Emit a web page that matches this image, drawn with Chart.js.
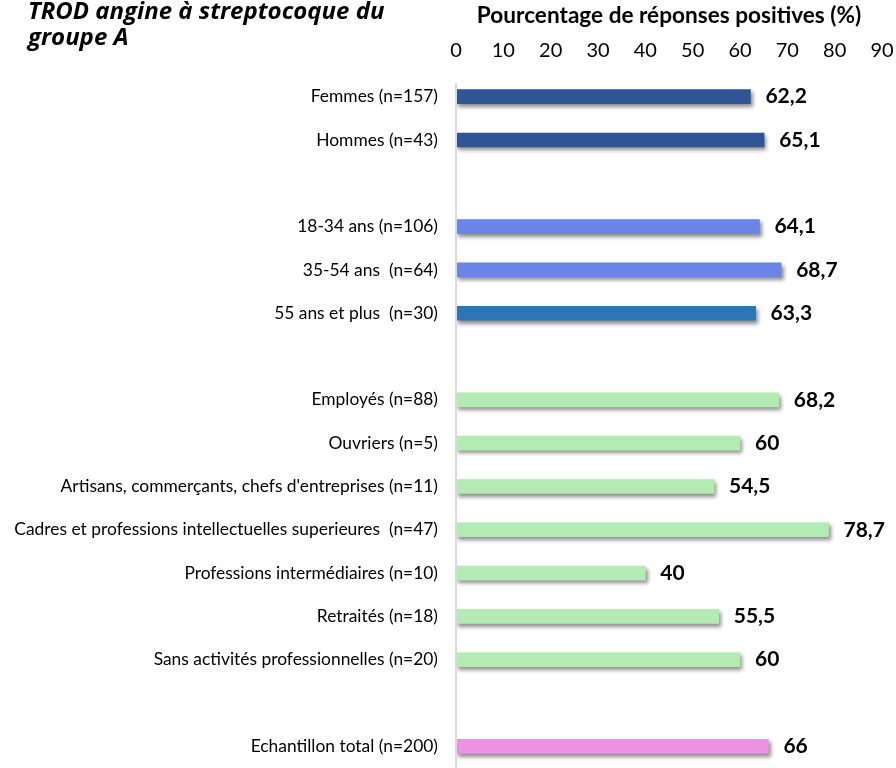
<!DOCTYPE html>
<html><head><meta charset="utf-8">
<script src="https://cdn.jsdelivr.net/npm/chart.js@4/dist/chart.umd.min.js"></script>
<style>
html,body{margin:0;padding:0;background:#fff;}
#wrap{position:relative;width:896px;height:768px;overflow:hidden;}
#title{position:absolute;left:28px;top:-3px;font:italic bold 24px "Open Sans", Lato, sans-serif;line-height:26px;color:#000;white-space:nowrap;}
</style></head>
<body><div id="wrap"><canvas id="c" width="896" height="768"></canvas>
<div id="title">TROD angine à streptocoque du<br>groupe A</div></div>
<script>
const categories = ["Femmes (n=157)","Hommes (n=43)","","18-34 ans (n=106)","35-54 ans  (n=64)","55 ans et plus  (n=30)","","Employés (n=88)","Ouvriers (n=5)","Artisans, commerçants, chefs d'entreprises (n=11)","Cadres et professions intellectuelles superieures  (n=47)","Professions intermédiaires (n=10)","Retraités (n=18)","Sans activités professionnelles (n=20)","","Echantillon total (n=200)"];
const values = [62.2,65.1,null,64.1,68.7,63.3,null,68.2,60,54.5,78.7,40,55.5,60,null,66];
const barColors = ["#2F5597","#2F5597","#fff","#6B85E6","#6B85E6","#2E75B6","#fff","#B3EBB3","#B3EBB3","#B3EBB3","#B3EBB3","#B3EBB3","#B3EBB3","#B3EBB3","#fff","#EE90E3"];
const tickValues = [0,10,20,30,40,50,60,70,80,90];
const axisTitle = "Pourcentage de réponses positives (%)";
const FONT = 'Lato, "Open Sans", sans-serif';

const shadowPlugin = {
  id:'shadow',
  beforeDatasetsDraw(chart){const c=chart.ctx;c.save();c.shadowColor='rgba(0,0,0,0.45)';c.shadowBlur=4;c.shadowOffsetX=2;c.shadowOffsetY=3;},
  afterDatasetsDraw(chart){chart.ctx.restore();
    const c=chart.ctx;const meta=chart.getDatasetMeta(0);
    c.save();c.font='bold 21px '+FONT;c.fillStyle='#000';c.textBaseline='middle';c.textAlign='left';
    meta.data.forEach((el,i)=>{const v=values[i];if(v==null)return;
      c.fillText(String(v).replace('.',','),el.x+15,el.y);});
    c.restore();
    const xs=chart.scales.x; const ca=chart.chartArea;
    c.save();c.strokeStyle='#D9D9D9';c.lineWidth=2;c.beginPath();c.moveTo(xs.getPixelForValue(0),ca.top+8);c.lineTo(xs.getPixelForValue(0),768);c.stroke();c.restore();
  }
};

new Chart(document.getElementById('c'),{
  type:'bar',
  data:{labels:categories,datasets:[{data:values,backgroundColor:barColors,barThickness:14,borderWidth:0}]},
  options:{
    indexAxis:'y',responsive:false,animation:false,
    layout:{padding:{left:0,right:14,top:0,bottom:0}},
    plugins:{legend:{display:false},tooltip:{enabled:false}},
    scales:{
      x:{position:'top',min:0,max:90,
        afterBuildTicks(s){s.ticks=tickValues.map(v=>({value:v}));},
        ticks:{color:'#000',font:{size:20,family:FONT},padding:12,maxRotation:0},
        grid:{display:false,drawTicks:false},border:{display:false},
        title:{display:true,text:axisTitle,color:'#000',font:{size:22.6,weight:'bold',family:FONT},padding:{top:2,bottom:4}},
        afterFit(s){s.height=75;s.paddingLeft=0;s.paddingRight=0;}
      },
      y:{grid:{display:false,drawTicks:false},border:{display:false},
        ticks:{color:'#000',font:{size:17.4,family:FONT},padding:18,autoSkip:false},
        afterFit(s){s.width=456;s.paddingTop=0;s.paddingBottom=0;}
      }
    }
  },
  plugins:[shadowPlugin]
});
</script></body></html>
